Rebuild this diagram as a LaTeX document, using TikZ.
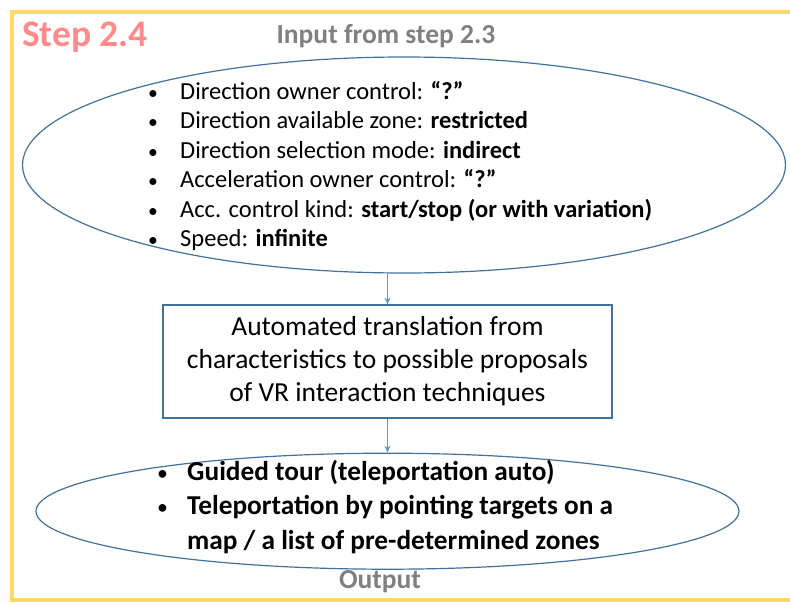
\documentclass[tikz,border=0pt]{standalone}
\usepackage{fontspec}
\setmainfont{Carlito}
\usepackage{xcolor}
\usepackage{tikz}
\usetikzlibrary{arrows.meta,positioning,shapes.geometric}

\definecolor{frameyellow}{HTML}{FFD966}
\definecolor{stepred}{HTML}{FF8A8A}
\definecolor{labelgray}{HTML}{808080}
\definecolor{outlineblue}{HTML}{41719C}
\definecolor{arrowblue}{HTML}{5B9BD5}

\newcommand{\bul}[2][30pt]{\makebox[#1][l]{\normalfont\scalebox{0.8}{\textbullet}}#2}

\begin{document}
\begin{tikzpicture}[
  x=1pt, y=-1pt,
  oval/.style={ellipse, draw=outlineblue, line width=1.2pt, inner sep=0pt},
  box/.style={rectangle, draw=outlineblue, line width=1.2pt, inner sep=0pt,
    align=center, font=\fontsize{27.5}{33}\selectfont},
  caption/.style={font=\fontsize{27.5}{30}\selectfont\bfseries, text=labelgray},
  flow/.style={-{Stealth[length=7pt,width=6pt]}, draw=arrowblue, line width=0.9pt}
]
  \useasboundingbox (0,0) rectangle (790,603);
  \draw[frameyellow, line width=4pt] (795,12) -- (12,12) -- (12,600) -- (795,600);

  \node[font=\fontsize{37.5}{40}\selectfont\bfseries, text=stepred] (step) at (85,37) {Step 2.4};
  \node[caption] (inlabel) at (386,36) {Input from step 2.3};

  \node[oval, minimum width=763, minimum height=216] (input) at (404,165) {};
  \node[anchor=west, align=left, inner sep=0pt, font=\fontsize{24.5}{29.5}\selectfont] (inlist) at (148,166) {%
    \bul[32pt]{Direction owner control: \textbf{“?”}}\\
    \bul[32pt]{Direction available zone: \textbf{restricted}}\\
    \bul[32pt]{Direction selection mode: \textbf{indirect}}\\
    \bul[32pt]{Acceleration owner control: \textbf{“?”}}\\
    \bul[32pt]{Acc. control kind: \textbf{start/stop (or with variation)}}\\
    \bul[32pt]{Speed: \textbf{infinite}}};

  \node[box, minimum width=449, minimum height=113] (trans) at (387.5,361.5) {%
    Automated translation from\\characteristics to possible proposals\\of VR interaction techniques};

  \node[oval, minimum width=703, minimum height=116, below=34pt of trans] (output) {};
  \node[anchor=west, align=left, inner sep=0pt, font=\fontsize{27.3}{34.5}\selectfont\bfseries] (outlist) at (157,507) {%
    \bul{Guided tour (teleportation auto)}\\
    \bul{Teleportation by pointing targets on a}\\
    \hspace*{30pt}map / a list of pre-determined zones};
  \node[caption] (outlabel) at (380,582) {Output};

  \draw[flow] (trans.north |- input.south) -- (trans.north);
  \draw[flow] (trans.south) -- (output.north);
\end{tikzpicture}
\end{document}
